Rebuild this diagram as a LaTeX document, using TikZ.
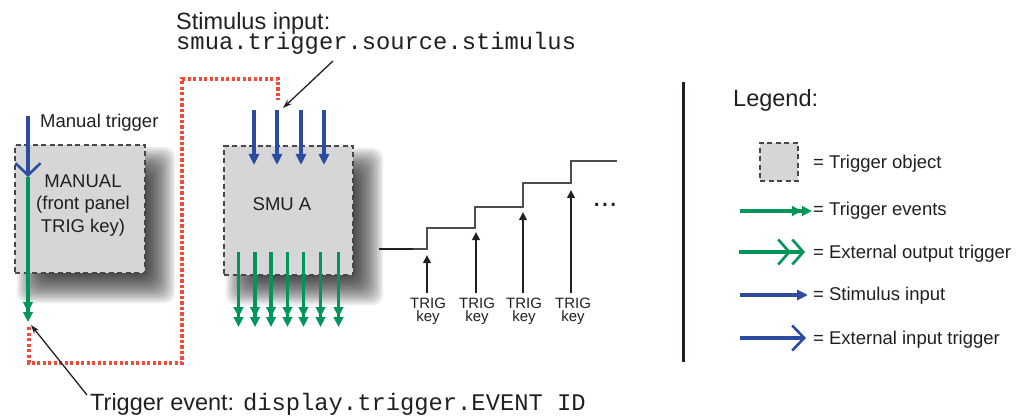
\documentclass[tikz,border=0pt]{standalone}
\usepackage{fontspec}
\setmainfont{Liberation Sans}
\newfontfamily\monof{Liberation Mono}
\usetikzlibrary{arrows.meta}
\definecolor{stimblue}{RGB}{43,76,160}
\definecolor{trgreen}{RGB}{0,150,90}
\definecolor{dotred}{RGB}{242,75,58}
\definecolor{boxgray}{RGB}{214,214,214}
\definecolor{txt}{RGB}{35,31,32}
\tikzset{
  txtnode/.style={inner sep=0pt, text=txt},
  trigobj/.style={draw=black!72, fill=boxgray, line width=1.5pt, dash pattern=on 5pt off 3.5pt},
  shadowlayer/.style={fill=black, fill opacity=0.075, draw=none, rounded corners=10pt},
  stim/.style={draw=stimblue, line width=3.5pt, -{Triangle[length=11pt,width=10pt]}},
  extin/.style={draw=stimblue, line width=3.5pt, -{Straight Barb[length=12pt,width=25pt,line width=2.6pt]}},
  trig/.style={draw=trgreen, line width=3.5pt, -{Triangle[length=10pt,width=9.5pt] Triangle[length=10pt,width=9.5pt]}},
  extout/.style={draw=trgreen, line width=3.5pt, -{Straight Barb[length=11pt,width=25pt,line width=2.6pt] Straight Barb[length=11pt,width=25pt,line width=2.6pt]}},
  keyarrow/.style={draw=txt, line width=2.4pt, -{Triangle[length=8pt,width=7.5pt]}},
  pointer/.style={draw=txt, line width=1.3pt, -{Stealth[length=9pt,width=6pt]}},
  redpath/.style={draw=dotred, line width=3.3pt, dash pattern=on 3.2pt off 2.3pt},
  big/.style={font=\fontsize{23.5}{26}\selectfont},
  bigmono/.style={font=\monof\fontsize{23.8}{26}\selectfont},
  mid/.style={font=\fontsize{18.5}{22}\selectfont},
  small/.style={font=\fontsize{15}{12.5}\selectfont},
}
\begin{document}
\begin{tikzpicture}[x=1pt,y=-1pt]
\useasboundingbox (0,0) rectangle (1018,417);

% soft shadows (stacked translucent layers)
\coordinate (mnw) at (15,145); \coordinate (mse) at (145,273);
\coordinate (snw) at (224,146); \coordinate (sse) at (353,275);
\foreach \r in {-14,-12,...,14}{
  \fill[shadowlayer] ([shift={(16-\r,16-\r)}]mnw) rectangle ([shift={(16+\r,16+\r)}]mse);
  \fill[shadowlayer] ([shift={(16-\r,16-\r)}]snw) rectangle ([shift={(16+\r,16+\r)}]sse);
}

% trigger object boxes
\node[trigobj, minimum width=130pt, minimum height=128pt] (manual) at (80,209) {};
\node[trigobj, minimum width=129pt, minimum height=129pt] (smu) at (288.5,210.5) {};

\node[txtnode, mid, align=center, anchor=base] (manualtext) at (83,232) {MANUAL\\(front panel\\TRIG key)};
\node[txtnode, mid, anchor=base] (smutext) at (282,211) {SMU A};

% red dotted connection
\coordinate (r0) at (29,327);
\coordinate (r5) at (278,100);
\draw[redpath] (r0) -- (29,363) -- (182,363) -- (182,79) -- (278,79) -- (r5);

% manual trigger path
\coordinate (mtop) at (28,116);
\coordinate (mv) at (28,177);
\coordinate (mbot) at (28,322);
\draw[extin] (mtop) -- (mv);
\draw[trig] (mv) -- (mbot);
\node[txtnode, mid, anchor=base west] (mlabel) at (40,128) {Manual trigger};

% stimulus inputs into SMU A
\foreach \x [count=\i] in {254,277,301,324}{
  \coordinate (si\i) at (\x,110);
  \coordinate (se\i) at (\x,165);
  \draw[stim] (si\i) -- (se\i);
}
% trigger events out of SMU A
\foreach \x [count=\i] in {238.5,255,271,287.5,303.5,320.5,338.5}{
  \coordinate (to\i) at (\x,252);
  \coordinate (te\i) at (\x,327);
  \draw[trig] (to\i) -- (te\i);
}

% labels with pointers
\node[txtnode, big, anchor=base west] (stimtitle) at (176,30) {Stimulus input:};
\node[txtnode, bigmono, anchor=base west] (stimcode) at (176,50) {smua.trigger.source.stimulus};
\coordinate (stimptr) at (333,61);
\draw[pointer] (stimptr) -- (283,108);

\node[txtnode, anchor=base west] (evlabel) at (90,410) {\fontsize{23.5}{26}\selectfont Trigger event: \monof\fontsize{23.8}{26}\selectfont display.trigger.EVENT ID};
\coordinate (evptr) at (87,395);
\draw[pointer] (evptr) -- (31,325);

% staircase output
\draw[txt, line width=2.4pt] (379,249) -- (413,249);
\draw[txt!80, line width=1.5pt] (413,249) -- (427,249) -- (427,228) -- (475,228) -- (475,207) -- (523,207) -- (523,183) -- (571,183) -- (571,161) -- (617,161);
\foreach \x/\t [count=\i] in {427/255,476/232,523/212,571/190}{
  \coordinate (kb\i) at (\x,293);
  \coordinate (kt\i) at (\x,\t);
  \draw[keyarrow] (kb\i) -- (kt\i);
}
\foreach \x [count=\i] in {428,477,524,573}{
  \node[txtnode, small, align=center, anchor=base] (key\i) at (\x,321) {TRIG\\key};
}
\node[txtnode, font=\fontsize{30}{30}\selectfont, anchor=base] (dots) at (605,207) {...};

% divider
\draw[txt, line width=3pt] (683,82) -- (683,362);

% legend
\node[txtnode, big, anchor=base west] (legtitle) at (733,107) {Legend:};
\node[trigobj, minimum width=38pt, minimum height=38pt] (legbox) at (779,162) {};
\node[txtnode, mid, anchor=base west] (l1) at (813,169) {= Trigger object};
\coordinate (a2) at (740,211); \coordinate (b2) at (812,211);
\draw[trig] (a2) -- (b2);
\node[txtnode, mid, anchor=base west] (l2) at (813,215) {= Trigger events};
\coordinate (a3) at (739,252); \coordinate (b3) at (805,252);
\draw[extout] (a3) -- (b3);
\node[txtnode, mid, anchor=base west] (l3) at (813,258) {= External output trigger};
\coordinate (a4) at (740,295); \coordinate (b4) at (808,295);
\draw[stim] (a4) -- (b4);
\node[txtnode, mid, anchor=base west] (l4) at (813,300) {= Stimulus input};
\coordinate (a5) at (740,338); \coordinate (b5) at (806,338);
\draw[extin] (a5) -- (b5);
\node[txtnode, mid, anchor=base west] (l5) at (813,344) {= External input trigger};
\end{tikzpicture}
\end{document}
